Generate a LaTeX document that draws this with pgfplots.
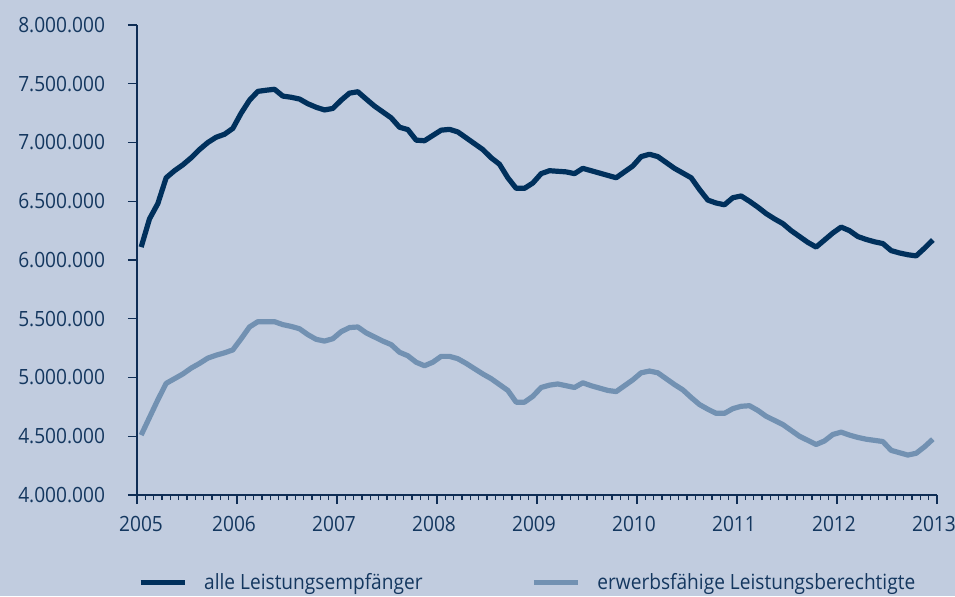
\documentclass[border=0pt]{standalone}
\usepackage{fontspec}
\setmainfont[FakeStretch=0.91]{Open Sans}
\usepackage{pgfplots}
\usepackage{pgfplotstable}
\pgfplotsset{compat=1.18}
\usetikzlibrary{backgrounds}

\definecolor{bg}{RGB}{193,204,223}
\definecolor{dk}{RGB}{0,48,92}
\definecolor{lt}{RGB}{114,145,178}
\definecolor{txt}{RGB}{20,55,95}
\definecolor{axc}{RGB}{15,45,85}

% Monate ab Jan 2005 (Monatsmitte), Werte in Mio.
\pgfplotstableread{
m    alle   erw
0.5  6.110  4.510
1.5  6.350  4.660
2.5  6.480  4.810
3.5  6.700  4.950
4.5  6.760  4.990
5.5  6.810  5.030
6.5  6.870  5.080
7.5  6.940  5.120
8.5  7.000  5.165
9.5  7.045  5.190
10.5 7.070  5.210
11.5 7.120  5.235
12.5 7.250  5.330
13.5 7.360  5.430
14.5 7.435  5.475
15.5 7.445  5.475
16.5 7.453  5.475
17.5 7.395  5.450
18.5 7.385  5.435
19.5 7.370  5.415
20.5 7.330  5.365
21.5 7.300  5.325
22.5 7.277  5.310
23.5 7.290  5.330
24.5 7.360  5.390
25.5 7.420  5.425
26.5 7.432  5.430
27.5 7.370  5.380
28.5 7.310  5.345
29.5 7.260  5.310
30.5 7.210  5.280
31.5 7.130  5.215
32.5 7.110  5.185
33.5 7.020  5.130
34.5 7.015  5.100
35.5 7.060  5.130
36.5 7.105  5.180
37.5 7.112  5.180
38.5 7.090  5.160
39.5 7.040  5.120
40.5 6.990  5.075
41.5 6.940  5.030
42.5 6.870  4.990
43.5 6.815  4.940
44.5 6.700  4.890
45.5 6.610  4.790
46.5 6.610  4.790
47.5 6.655  4.840
48.5 6.735  4.915
49.5 6.760  4.935
50.5 6.755  4.945
51.5 6.750  4.930
52.5 6.735  4.915
53.5 6.780  4.955
54.5 6.760  4.930
55.5 6.740  4.910
56.5 6.720  4.890
57.5 6.700  4.880
58.5 6.750  4.930
59.5 6.800  4.980
60.5 6.880  5.040
61.5 6.900  5.055
62.5 6.880  5.040
63.5 6.830  4.990
64.5 6.780  4.940
65.5 6.740  4.895
66.5 6.700  4.830
67.5 6.600  4.770
68.5 6.510  4.730
69.5 6.485  4.695
70.5 6.470  4.695
71.5 6.530  4.735
72.5 6.545  4.755
73.5 6.500  4.760
74.5 6.450  4.720
75.5 6.395  4.670
76.5 6.350  4.635
77.5 6.310  4.600
78.5 6.250  4.550
79.5 6.200  4.500
80.5 6.150  4.465
81.5 6.110  4.430
82.5 6.170  4.460
83.5 6.230  4.515
84.5 6.280  4.535
85.5 6.250  4.510
86.5 6.200  4.490
87.5 6.175  4.475
88.5 6.155  4.465
89.5 6.140  4.455
90.5 6.080  4.380
91.5 6.060  4.360
92.5 6.045  4.340
93.5 6.035  4.355
94.5 6.100  4.410
95.5 6.170  4.475
}\daten

\begin{document}
\begin{tikzpicture}
\path[use as bounding box] (-68.5pt,-50.5pt) rectangle (409pt,247.5pt);
\begin{axis}[
    name=ax, at={(0,0)}, anchor=south west,
    scale only axis, width=400pt, height=235pt,
    xmin=0, xmax=96, ymin=4, ymax=8,
    axis x line*=bottom, axis y line*=left,
    axis line style={axc, line width=0.7pt},
    xtick={0,12,24,36,48,60,72,84,96},
    xticklabels={\hspace*{7pt}2005,2006,2007,2008,2009,2010,2011,2012,2013},
    minor x tick num=11,
    ytick={4,4.5,5,5.5,6,6.5,7,7.5,8},
    yticklabels={4.000.000,4.500.000,5.000.000,5.500.000,6.000.000,6.500.000,7.000.000,7.500.000,8.000.000},
    tick align=outside,
    major tick length=4.5pt, minor tick length=2.5pt,
    tick style={axc, line width=0.7pt},
    every tick label/.append style={font=\fontsize{10.5}{12}\selectfont, text=txt},
    xticklabel style={inner sep=0pt, yshift=-5.8pt, xshift=-1.5pt},
    yticklabel style={xshift=-8pt},
    legend columns=2,
    legend style={draw=none, fill=none, inner sep=0pt, outer sep=0pt,
        at={(0.00125,-0.187)}, anchor=west,
        font=\fontsize{10.5}{12}\selectfont, text=txt,
        nodes={inner sep=0pt},
        /tikz/every odd column/.append style={column sep=8.5pt},
        /tikz/every even column/.append style={column sep=0pt}},
    legend image code/.code={\draw[#1, line cap=butt] (0pt,0pt) -- (22pt,0pt);},
]
\addplot[dk, line width=2.6pt, line join=round] table[x=m, y=alle]{\daten};
\addlegendentry{\makebox[163.5pt][l]{alle Leistungsempfänger}}
\addplot[lt, line width=2.6pt, line join=round] table[x=m, y=erw]{\daten};
\addlegendentry{erwerbsfähige Leistungsberechtigte}
\end{axis}
\begin{scope}[on background layer]
\fill[bg] (-68.5pt,-50.5pt) rectangle (409pt,247.5pt);
\end{scope}
\end{tikzpicture}
\end{document}
